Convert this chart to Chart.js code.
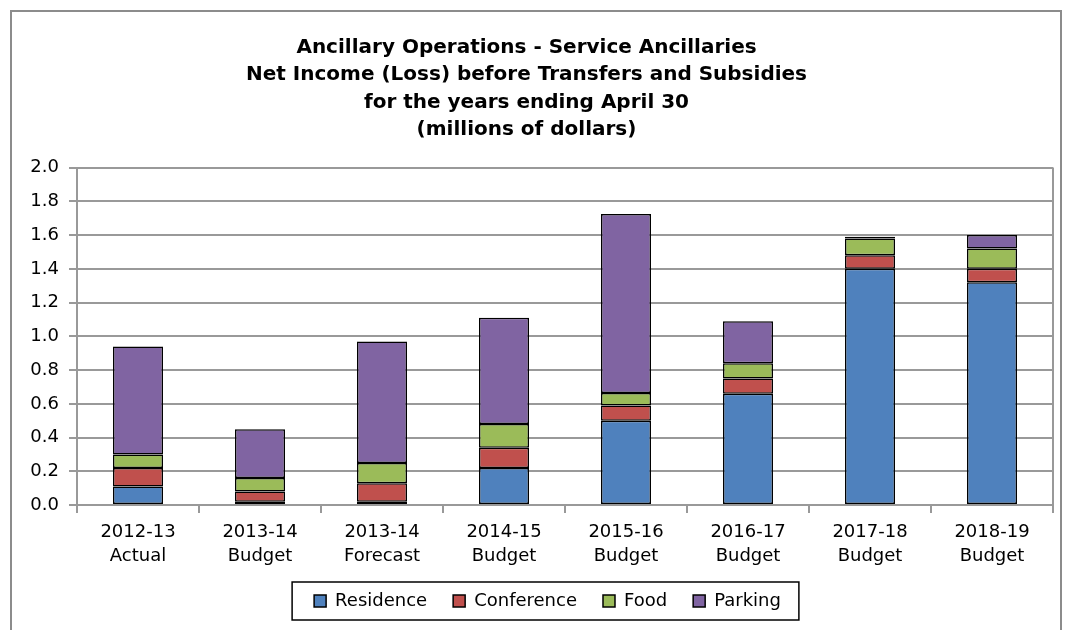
<!DOCTYPE html>
<html>
<head>
<meta charset="utf-8">
<script src="https://cdn.jsdelivr.net/npm/chart.js@4/dist/chart.umd.min.js"></script>
<style>
    body { margin: 0; background: #fff; }
    #wrap { position: relative; width: 1067px; height: 630px; }
    #frame { position: absolute; left: 10px; top: 10px; width: 1052px; height: 640px; border: 2px solid #8c8c8c; box-sizing: border-box; }
    canvas { position: absolute; left: 0; top: 0; }
</style>
</head>
<body>
<div id="wrap">
    <div id="frame"></div>
    <canvas id="chart" width="1067" height="630"></canvas>
</div>
<script>
// Chart data (millions of dollars)
const categories = [
    ['2012-13', 'Actual'],
    ['2013-14', 'Budget'],
    ['2013-14', 'Forecast'],
    ['2014-15', 'Budget'],
    ['2015-16', 'Budget'],
    ['2016-17', 'Budget'],
    ['2017-18', 'Budget'],
    ['2018-19', 'Budget']
];
const residence  = [0.11, 0.02, 0.02, 0.22, 0.50, 0.66, 1.40, 1.32];
const conference = [0.11, 0.06, 0.11, 0.12, 0.09, 0.09, 0.08, 0.08];
const food       = [0.08, 0.08, 0.12, 0.14, 0.075, 0.09, 0.10, 0.12];
const parking    = [0.64, 0.29, 0.72, 0.63, 1.06, 0.25, 0.01, 0.08];

const titleLines = [
    'Ancillary Operations - Service Ancillaries',
    'Net Income (Loss) before Transfers and Subsidies',
    'for the years ending April 30',
    '(millions of dollars)'
];

const FONT = "'DejaVu Sans', Verdana, sans-serif";

// Box around legend + right edge of plot area
const framePlugin = {
    id: 'framePlugin',
    afterLayout(chart) {
        // legend sits a bit right of centre in the original
        chart.legend.left += 21;
        chart.legend.right += 21;
    },
    afterDraw(chart) {
        const ctx = chart.ctx;
        const area = chart.chartArea;
        ctx.save();
        ctx.strokeStyle = '#999';
        ctx.lineWidth = 2;
        ctx.beginPath();
        ctx.moveTo(area.right, area.top);
        ctx.lineTo(area.right, area.bottom);
        ctx.stroke();

        const boxes = chart.legend.legendHitBoxes;
        if (boxes && boxes.length) {
            const left = Math.min(...boxes.map(b => b.left)) - 22;
            const right = Math.max(...boxes.map(b => b.left + b.width)) + 18;
            const top = Math.min(...boxes.map(b => b.top)) - 10;
            const bottom = Math.max(...boxes.map(b => b.top + b.height)) + 10;
            ctx.strokeStyle = '#000';
            ctx.lineWidth = 1.5;
            ctx.strokeRect(left, top, right - left, bottom - top);
        }
        ctx.restore();
    }
};

function makeSet(label, data, color) {
    return {
        label: label,
        data: data,
        backgroundColor: color,
        borderColor: '#000',
        borderWidth: 1.5,
        borderSkipped: false,
        barPercentage: 0.82,
        categoryPercentage: 0.5
    };
}

new Chart(document.getElementById('chart').getContext('2d'), {
    type: 'bar',
    data: {
        labels: categories,
        datasets: [
            makeSet('Residence', residence, '#4F81BD'),
            makeSet('Conference', conference, '#C0504D'),
            makeSet('Food', food, '#9BBB59'),
            makeSet('Parking', parking, '#8064A2')
        ]
    },
    options: {
        responsive: false,
        animation: false,
        layout: {
            padding: { left: 0, right: 14, top: 34, bottom: 10 }
        },
        scales: {
            x: {
                stacked: true,
                grid: {
                    display: true,
                    offset: true,
                    drawOnChartArea: false,
                    color: '#999',
                    lineWidth: 2,
                    tickLength: 8
                },
                border: { color: '#999', width: 2 },
                ticks: {
                    color: '#000',
                    font: { family: FONT, size: 18, lineHeight: 1.33 },
                    maxRotation: 0,
                    padding: 7
                },
                afterFit: function(scale) {
                    scale.height -= 9;
                }
            },
            y: {
                stacked: true,
                min: 0,
                max: 2,
                grid: {
                    color: '#999',
                    lineWidth: 2,
                    tickLength: 8
                },
                border: { color: '#999', width: 2 },
                ticks: {
                    stepSize: 0.2,
                    color: '#000',
                    padding: 10,
                    font: { family: FONT, size: 18 },
                    callback: v => Number(v).toFixed(1)
                },
                afterFit: function(scale) {
                    scale.width = 77;
                }
            }
        },
        plugins: {
            title: {
                display: true,
                text: titleLines,
                color: '#000',
                font: { family: FONT, size: 20, weight: 'bold', lineHeight: 1.37 },
                padding: { top: 0, bottom: 24 }
            },
            legend: {
                position: 'bottom',
                labels: {
                    color: '#000',
                    font: { family: FONT, size: 18 },
                    boxWidth: 12,
                    boxHeight: 12,
                    padding: 26
                }
            },
            tooltip: { enabled: false }
        }
    },
    plugins: [framePlugin]
});
</script>
</body>
</html>
